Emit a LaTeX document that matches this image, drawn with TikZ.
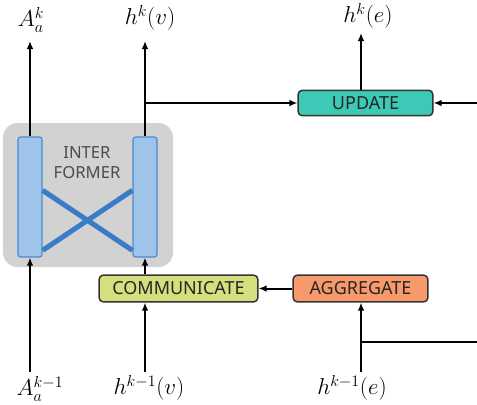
\documentclass[tikz,border=0pt]{standalone}
\usepackage{amsmath}
\usepackage{fontspec}
\newfontfamily\boxfont{Noto Sans}
\usetikzlibrary{arrows.meta}
\definecolor{grayblock}{HTML}{D2D2D2}
\definecolor{barfill}{HTML}{9EC4EA}
\definecolor{barline}{HTML}{4A8BD0}
\definecolor{crossblue}{HTML}{3A7DC6}
\definecolor{updcol}{HTML}{3CC9B5}
\definecolor{comcol}{HTML}{D5DF7E}
\definecolor{aggcol}{HTML}{F8996B}

\tikzset{
  flow/.style={line width=1.5pt, -{Latex[length=6pt,width=5pt]}},
  wire/.style={line width=1.5pt},
  opbox/.style={draw=black!80, line width=1.1pt, rounded corners=3pt,
    font=\boxfont\fontsize{13.5}{15}\selectfont, text=black!85, inner sep=0pt},
  bar/.style={draw=barline, fill=barfill, line width=0.9pt, rounded corners=2pt,
    minimum width=18pt, minimum height=90pt, inner sep=0pt},
  lab/.style={font=\fontsize{17}{20}\selectfont, inner sep=1pt}
}

\begin{document}
\begin{tikzpicture}[x=0.75pt, y=-0.75pt]
  \useasboundingbox (0,0) rectangle (477,404);
  % interformer block
  \fill[grayblock, rounded corners=11pt] (3,123) rectangle (173,267);
  \node[font=\boxfont\fontsize{12.5}{15}\selectfont, text=black!70, align=center]
    (title) at (87,163) {INTER\\FORMER};
  \node[bar] (barL) at (30,197) {};
  \node[bar] (barR) at (145,197) {};
  % crossing links between the two bars
  \draw[crossblue, line width=3.8pt]
    ([yshift=5pt]barL.east) -- ([yshift=-40pt]barR.west)
    ([yshift=-40pt]barL.east) -- ([yshift=5pt]barR.west);
  % operation boxes
  \node[opbox, fill=updcol, minimum width=101pt, minimum height=19pt]
    (update) at (365.5,103) {UPDATE};
  \node[opbox, fill=comcol, minimum width=119pt, minimum height=20pt]
    (comm) at (178.5,288.5) {COMMUNICATE};
  \node[opbox, fill=aggcol, minimum width=101pt, minimum height=20pt]
    (aggr) at (360.5,288.5) {AGGREGATE};
  % inputs
  \node[lab] (inA) at (40,389) {$A_a^{k-1}$};
  \node[lab] (inV) at (149,388) {$h^{k-1}(v)$};
  \node[lab] (inE) at (352,388) {$h^{k-1}(e)$};
  % outputs
  \node[lab] (outA) at (31,20) {$A_a^{k}$};
  \node[lab] (outV) at (150,18) {$h^{k}(v)$};
  \node[lab] (outE) at (368,16) {$h^{k}(e)$};
  % free ends
  \coordinate (srcA) at (30,372);
  \coordinate (srcV) at (145,372);
  \coordinate (srcE) at (361,372);
  \coordinate (topA) at (30,41);
  \coordinate (topV) at (145,41);
  \coordinate (topE) at (361,33);
  \coordinate (tapV) at (145,103);
  \coordinate (tapE) at (361,342);
  \coordinate (rimU) at (477,103);
  \coordinate (rimE) at (477,342);
  % connectors
  \draw[flow] (srcA) -- (barL.south);
  \draw[flow] (barL.north) -- (topA);
  \draw[flow] (srcV) -- (comm.south -| srcV);
  \draw[flow] (comm.north -| barR) -- (barR.south);
  \draw[flow] (barR.north) -- (topV);
  \draw[flow] (tapV) -- (update.west);
  \draw[flow] (rimU) -- (update.east);
  \draw[flow] (update.north -| topE) -- (topE);
  \draw[flow] (aggr.west) -- (comm.east);
  \draw[flow] (srcE) -- (aggr.south -| srcE);
  \draw[wire] (tapE) -- (rimE);
\end{tikzpicture}
\end{document}
